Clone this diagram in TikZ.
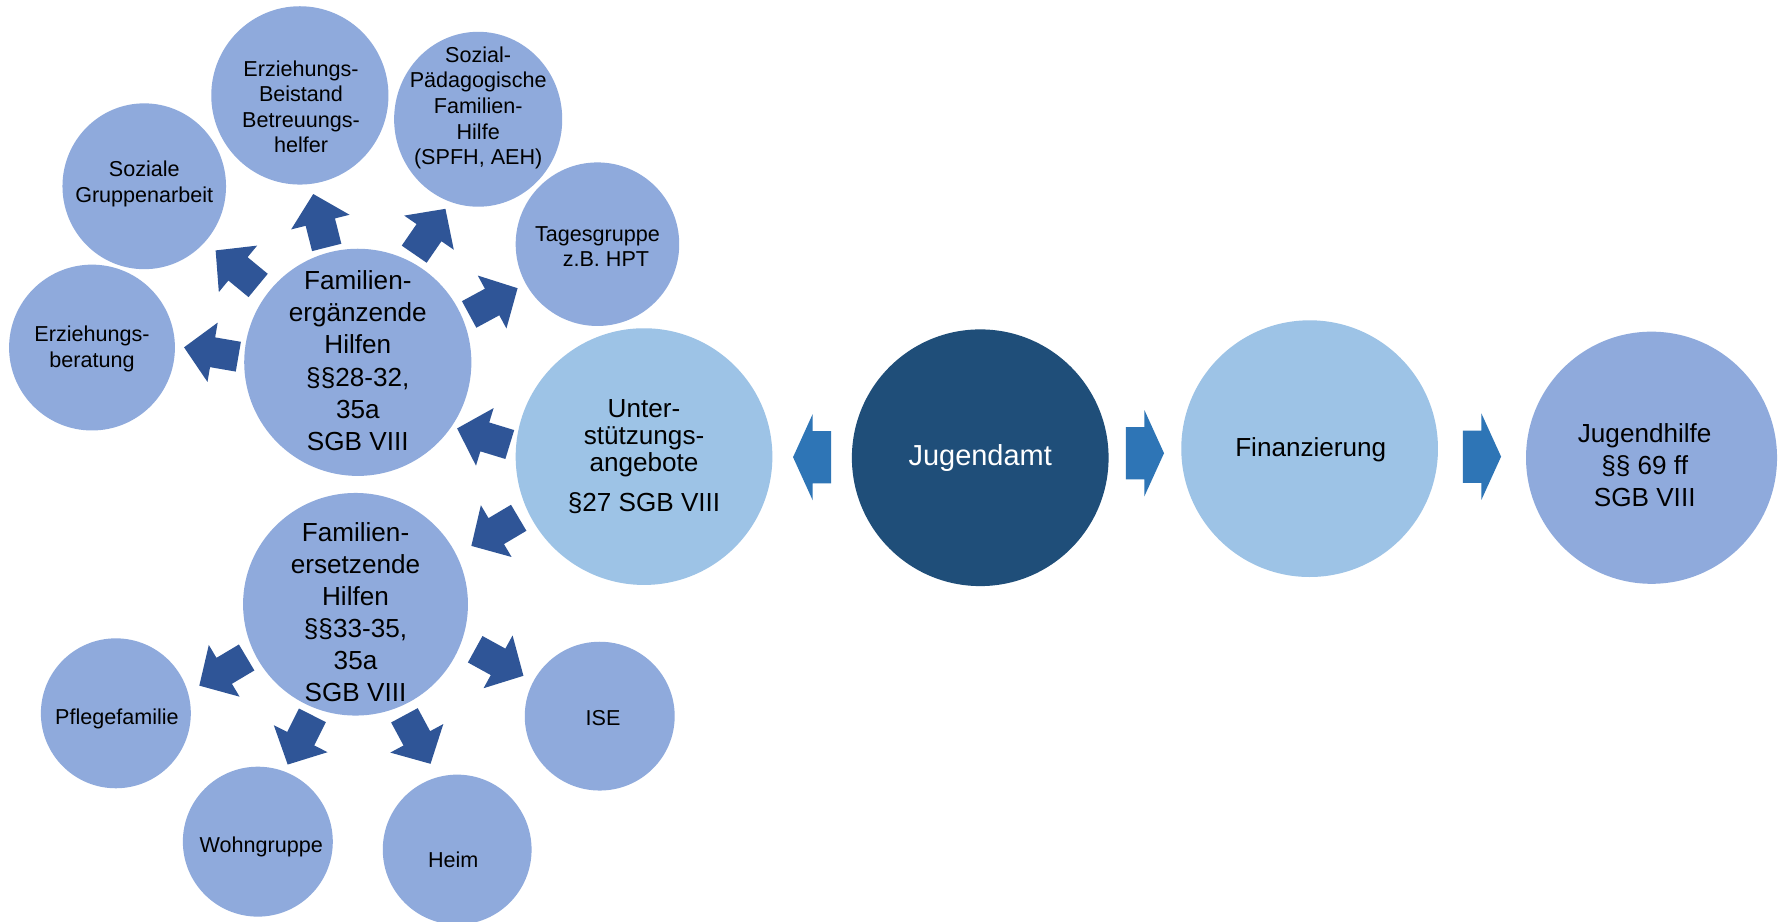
\documentclass[tikz,border=0pt]{standalone}
\usepackage{fontspec}
\setmainfont{Liberation Sans}
\usetikzlibrary{shapes.geometric}
\definecolor{bubble}{HTML}{8FAADC}
\definecolor{pale}{HTML}{9DC3E6}
\definecolor{navy}{HTML}{1F4E79}
\definecolor{arrowdk}{HTML}{2F5597}
\definecolor{arrowmd}{HTML}{2E75B6}
\begin{document}
\begin{tikzpicture}[x=1pt,y=1pt,
  bub/.style={ellipse, inner sep=0pt, draw=none, fill=bubble},
  palebub/.style={ellipse, inner sep=0pt, draw=none, fill=pale},
  smalltxt/.style={align=center, inner sep=0pt, font=\fontsize{19}{22.5}\selectfont},
  bigtxt/.style={align=center, inner sep=0pt, font=\fontsize{23}{28.3}\selectfont},
  pics/darr/.style n args={2}{code={
    \fill[arrowdk, shift={(0,#2)}, rotate=#1]
      (-24.25,-13.3) -- (-1.25,-13.3) -- (-1.25,-26.5) -- (24.25,0)
      -- (-1.25,26.5) -- (-1.25,13.3) -- (-24.25,13.3) -- cycle;
  }},
  pics/sarr/.style={code={
    \fill[arrowmd]
      (-16.8,-23) -- (-0.5,-23) -- (-0.5,-38) -- (16.8,0)
      -- (-0.5,38) -- (-0.5,23) -- (-16.8,23) -- cycle;
  }}]
\useasboundingbox (0,0) rectangle (1568,811);
\fill[white] (0,0) rectangle (1568,811);

% --- family-supplementing help and its offers
\node[bub, minimum width=200pt, minimum height=200pt] (fe) at (315,492) {};
\node[bub, minimum width=146pt, minimum height=146pt] (eb) at (81,505) {};
\node[bub, minimum width=144pt, minimum height=146pt] (sga) at (127,647) {};
\node[bub, minimum width=156pt, minimum height=157pt] (eba) at (264,727) {};
\node[bub, minimum width=148pt, minimum height=154pt] (spfh) at (421,706) {};
\node[bub, minimum width=144pt, minimum height=144pt] (tg) at (526,596) {};

% --- family-replacing help and its offers
\node[bub, minimum width=198pt, minimum height=196pt] (fers) at (313,279) {};
\node[bub, minimum width=132pt, minimum height=132pt] (pf) at (102,183) {};
\node[bub, minimum width=132pt, minimum height=132pt] (wg) at (227,70) {};
\node[bub, minimum width=131pt, minimum height=132pt] (heim) at (402.5,63) {};
\node[bub, minimum width=132pt, minimum height=131pt] (ise) at (528,180.5) {};

% --- main row
\node[palebub, minimum width=226pt, minimum height=226pt] (ust) at (567,409) {};
\node[ellipse, inner sep=0pt, fill=navy, minimum width=226pt, minimum height=226pt] (jug) at (863,408) {};
\node[palebub, minimum width=226pt, minimum height=226pt] (fin) at (1153,416) {};
\node[bub, minimum width=221pt, minimum height=222pt] (jh) at (1454,408) {};

% --- labels
\node[bigtxt] (fe-t) at (315,493.5) {Familien-\\erg\"anzende\\Hilfen\\\S\S28-32,\\35a\\SGB VIII};
\node[smalltxt] (eb-t) at (81,504) {Erziehungs-\\beratung};
\node[smalltxt] (sga-t) at (127,649) {Soziale\\Gruppenarbeit};
\node[smalltxt] (eba-t) at (265,717) {Erziehungs-\\Beistand\\Betreuungs-\\helfer};
\node[smalltxt] (spfh-t) at (421,716) {Sozial-\\P\"adagogische\\Familien-\\Hilfe\\(SPFH, AEH)};
\node[smalltxt] (tg-t) at (526,594) {Tagesgruppe\\\hspace*{15pt}z.B. HPT};
\node[bigtxt] (fers-t) at (313,272) {Familien-\\ersetzende\\Hilfen\\\S\S33-35,\\35a\\SGB VIII};
\node[smalltxt] (pf-t) at (103,178) {Pflegefamilie};
\node[smalltxt] (wg-t) at (230,65.6) {Wohngruppe};
\node[smalltxt] (heim-t) at (399,54.4) {Heim};
\node[smalltxt] (ise-t) at (531,178.6) {ISE};
\node[align=center, inner sep=0pt, font=\fontsize{23}{23.5}\selectfont] (ust-t) at (567,409)
  {Unter-\\st\"utzungs-\\angebote\\[11.5pt]\S27 SGB VIII};
\node[inner sep=0pt, text=white, font=\fontsize{25.5}{30}\selectfont] (jug-t) at (863,408) {Jugendamt};
\node[inner sep=0pt, font=\fontsize{23}{28}\selectfont] (fin-t) at (1154,415) {Finanzierung};
\node[align=center, inner sep=0pt, font=\fontsize{23}{28}\selectfont] (jh-t) at (1448,401.4)
  {Jugendhilfe\\\S\S{} 69 ff\\SGB VIII};

% --- block arrows between the circles
\path (fe.center) -- (eb.center)   pic[pos=0.552, sloped, allow upside down] {darr={-6.6}{-1.9}};
\path (fe.center) -- (sga.center)  pic[pos=0.554, sloped, allow upside down] {darr={0}{3.6}};
\path (fe.center) -- (eba.center)  pic[pos=0.536, sloped, allow upside down] {darr={1.9}{6.1}};
\path (fe.center) -- (spfh.center) pic[pos=0.550, sloped, allow upside down] {darr={-8.2}{-5.7}};
\path (fe.center) -- (tg.center)   pic[pos=0.556, sloped, allow upside down] {darr={2.2}{-4.6}};
\path (ust.center) -- (fe.center)   pic[pos=0.527, sloped, allow upside down] {darr={1.2}{27.4}};
\path (ust.center) -- (fers.center) pic[pos=0.515, sloped, allow upside down] {darr={3.6}{-0.8}};
\path (fers.center) -- (pf.center)   pic[pos=0.564, sloped, allow upside down] {darr={6.3}{5.6}};
\path (fers.center) -- (wg.center)   pic[pos=0.571, sloped, allow upside down] {darr={-4.3}{0.3}};
\path (fers.center) -- (heim.center) pic[pos=0.560, sloped, allow upside down] {darr={5.8}{4.8}};
\path (fers.center) -- (ise.center)  pic[pos=0.577, sloped, allow upside down] {darr={-4.2}{6.1}};

\path (jug) -- (ust) pic[midway, rotate=180] {sarr};
\path (jug) -- (fin) pic[midway] {sarr};
\path (fin) -- (jh) pic[midway, yshift=-3pt] {sarr};
\end{tikzpicture}
\end{document}
